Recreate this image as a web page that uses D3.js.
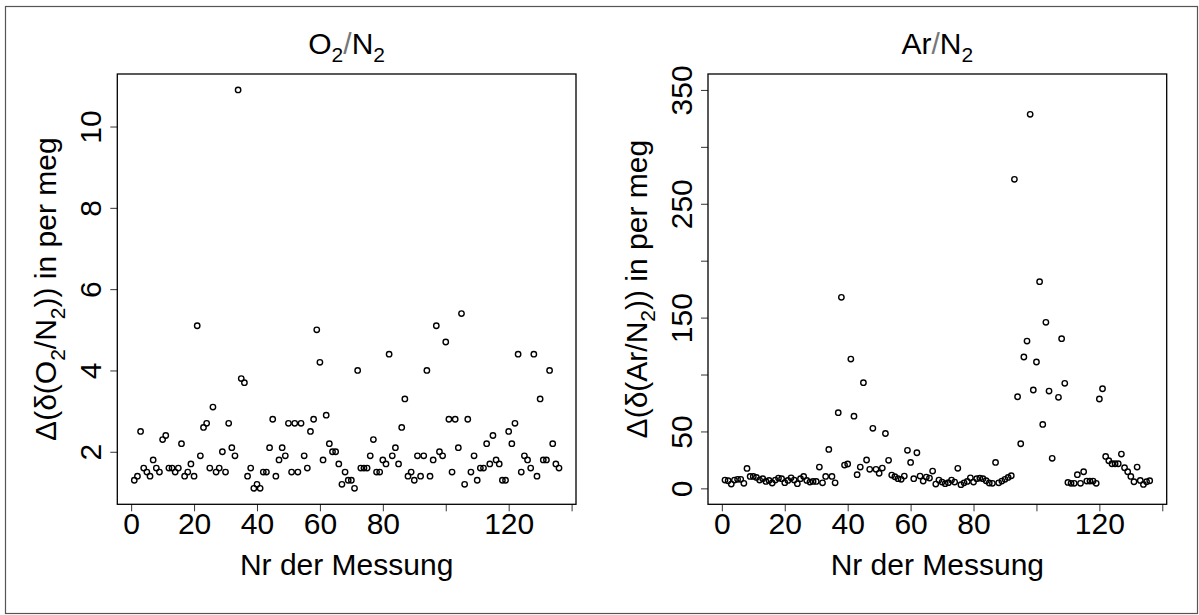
<!DOCTYPE html>
<html>
<head>
<meta charset="utf-8">
<script src="https://cdn.jsdelivr.net/npm/d3@7"></script>
<style>
    body { margin: 0; background: #fff; }
    text { font-family: "Liberation Sans", Arial, Helvetica, sans-serif; fill: #000; }
</style>
</head>
<body>
<div id="chart-area"></div>
<script>
/*
*    Two scatter panels: O2/N2 and Ar/N2 differences per measurement
*/

// Data
var nr = d3.range(1, 137);

var o2n2 = [1.3, 1.4, 2.5, 1.6, 1.5, 1.4, 1.8, 1.6, 1.5, 2.3,
    2.4, 1.6, 1.6, 1.5, 1.6, 2.2, 1.4, 1.5, 1.7, 1.4,
    5.1, 1.9, 2.6, 2.7, 1.6, 3.1, 1.5, 1.6, 2.0, 1.5,
    2.7, 2.1, 1.9, 10.9, 3.8, 3.7, 1.4, 1.6, 1.1, 1.2,
    1.1, 1.5, 1.5, 2.1, 2.8, 1.4, 1.8, 2.1, 1.9, 2.7,
    1.5, 2.7, 1.5, 2.7, 1.9, 1.6, 2.5, 2.8, 5.0, 4.2,
    1.8, 2.9, 2.2, 2.0, 2.0, 1.7, 1.2, 1.5, 1.3, 1.3,
    1.1, 4.0, 1.6, 1.6, 1.6, 1.9, 2.3, 1.5, 1.5, 1.8,
    1.7, 4.4, 1.9, 2.1, 1.7, 2.6, 3.3, 1.4, 1.5, 1.3,
    1.9, 1.4, 1.9, 4.0, 1.4, 1.8, 5.1, 2.0, 1.9, 4.7,
    2.8, 1.5, 2.8, 2.1, 5.4, 1.2, 2.8, 1.5, 1.9, 1.3,
    1.6, 1.6, 2.2, 1.7, 2.4, 1.8, 1.7, 1.3, 1.3, 2.5,
    2.2, 2.7, 4.4, 1.5, 1.9, 1.8, 1.6, 4.4, 1.4, 3.3,
    1.8, 1.8, 4.0, 2.2, 1.7, 1.6];

var arn2 = [7.3, 6.7, 3.8, 7.3, 7.9, 7.9, 4.4, 17.5, 10.5, 10.5,
    9.6, 7.3, 8.5, 6.1, 7.0, 4.7, 7.3, 9.0, 8.5, 5.0,
    7.0, 9.3, 7.3, 4.1, 8.5, 10.5, 7.0, 5.5, 6.1, 6.1,
    18.7, 4.9, 10.5, 34.2, 10.5, 4.9, 66.5, 167.8, 20.5, 21.4,
    113.6, 63.4, 12.0, 18.7, 92.8, 24.9, 16.7, 52.7, 16.7, 13.2,
    17.8, 48.2, 24.6, 11.7, 10.2, 8.5, 7.9, 10.8, 33.4, 22.8,
    8.5, 31.3, 10.8, 6.4, 9.9, 9.0, 15.2, 3.8, 7.3, 5.5,
    4.1, 5.0, 7.3, 5.5, 17.6, 3.2, 4.9, 6.1, 9.3, 5.5,
    8.5, 9.0, 8.5, 6.7, 4.7, 4.4, 22.8, 4.9, 6.4, 7.9,
    9.6, 11.1, 271.5, 80.5, 39.2, 115.4, 129.4, 328.6, 86.4, 111.0,
    181.6, 56.2, 145.9, 85.5, 26.4, null, 80.0, 131.5, 92.3, 5.2,
    4.4, 4.4, 12.0, 4.4, 14.6, 6.4, 6.4, 6.4, 4.4, 78.5,
    87.5, 28.1, 24.3, 21.6, 21.6, 21.6, 30.1, 18.1, 14.6, 10.5,
    5.8, 18.7, 7.0, 3.5, 5.8, 6.7];

// Ticks
var xTicks = [0, 20, 40, 60, 80, 100, 120, 140];
var xTickLabels = [0, 20, 40, 60, 80, 120];
var o2Ticks = [2, 4, 6, 8, 10];
var o2TickLabels = [2, 4, 6, 8, 10];
var arTicks = [0, 50, 100, 150, 200, 250, 300, 350];
var arTickLabels = [0, 50, 150, 250, 350];

var W = 1199, H = 615;
var fontSize = 30;

var svg = d3.select("#chart-area")
    .append("svg")
        .attr("width", W)
        .attr("height", H);

// outer frame
svg.append("rect")
    .attr("x", 5.5)
    .attr("y", 6.5)
    .attr("width", 1192)
    .attr("height", 607)
    .attr("fill", "none")
    .attr("stroke", "#555")
    .attr("stroke-width", 1.2);

// writes text made of parts, some of them subscripts
function richText(sel, parts) {
    var shift = fontSize * 0.28;
    var down = false;
    parts.forEach(function(p) {
        var ts = sel.append("tspan").text(p.t);
        if (p.sub) {
            ts.attr("font-size", fontSize * 0.7)
                .attr("dy", down ? 0 : shift);
            down = true;
        } else {
            if (down) ts.attr("dy", -shift);
            down = false;
            if (p.light) ts.style("fill", "#777");
        }
    });
}

function panel(opts) {
    var width = opts.right - opts.left,
        height = 504.3 - 74;

    var g = svg.append("g")
        .attr("transform", "translate(" + opts.left + ", 74)");

    // X Scale
    var x = d3.scaleLinear()
        .domain([1 - 0.04 * 135, 136 + 0.04 * 135])
        .range([0, width]);

    // Y Scale
    var y = d3.scaleLinear()
        .domain(opts.yDomain)
        .range([height, 0]);

    // X Axis
    var xAxisCall = d3.axisBottom(x)
        .tickValues(xTicks)
        .tickSize(7)
        .tickFormat(function(d) { return xTickLabels.indexOf(d) >= 0 ? d : ""; });
    var xAxisGroup = g.append("g")
        .attr("transform", "translate(0," + height + ")")
        .call(xAxisCall);
    xAxisGroup.select(".domain").remove();
    xAxisGroup.selectAll("line").attr("stroke", "#333");
    xAxisGroup.selectAll("text")
        .filter(function() { return this.textContent === ""; })
        .remove();
    xAxisGroup.selectAll("text")
        .attr("y", 30)
        .attr("dy", 0)
        .attr("font-size", fontSize)
        .attr("font-family", null);

    // Y Axis
    var yAxisCall = d3.axisLeft(y)
        .tickValues(opts.yTicks)
        .tickSize(7)
        .tickFormat(function(d) { return opts.yTickLabels.indexOf(d) >= 0 ? d : ""; });
    var yAxisGroup = g.append("g").call(yAxisCall);
    yAxisGroup.select(".domain").remove();
    yAxisGroup.selectAll("line").attr("stroke", "#333");
    yAxisGroup.selectAll("text")
        .filter(function() { return this.textContent === ""; })
        .remove();
    yAxisGroup.selectAll("text")
        .attr("x", 0)
        .attr("dy", 0)
        .attr("text-anchor", "middle")
        .attr("transform", "translate(-16,0) rotate(-90)")
        .attr("font-size", fontSize)
        .attr("font-family", null);

    // Box
    g.append("rect")
        .attr("width", width)
        .attr("height", height)
        .attr("fill", "none")
        .attr("stroke", "#000")
        .attr("stroke-width", 1.3);

    // Points
    var pts = nr.map(function(d, i) { return { nr: d, v: opts.values[i] }; })
        .filter(function(d) { return d.v !== null; });

    g.selectAll("circle")
        .data(pts)
        .enter()
        .append("circle")
            .attr("cx", function(d) { return x(d.nr); })
            .attr("cy", function(d) { return y(d.v); })
            .attr("r", 2.7)
            .attr("fill", "none")
            .attr("stroke", "#000")
            .attr("stroke-width", 1.4);

    // Title
    var title = g.append("text")
        .attr("x", width / 2)
        .attr("y", -20)
        .attr("font-size", fontSize)
        .attr("text-anchor", "middle");
    richText(title, opts.title);

    // X Label
    g.append("text")
        .attr("x", width / 2)
        .attr("y", height + 71)
        .attr("font-size", fontSize)
        .attr("text-anchor", "middle")
        .text("Nr der Messung");

    // Y Label
    var ylab = g.append("text")
        .attr("x", -height / 2)
        .attr("y", -61)
        .attr("font-size", fontSize)
        .attr("text-anchor", "middle")
        .attr("transform", "rotate(-90)");
    richText(ylab, opts.ylab);
}

panel({
    left: 117.3,
    right: 576,
    values: o2n2,
    yDomain: [0.708, 11.292],
    yTicks: o2Ticks,
    yTickLabels: o2TickLabels,
    title: [{ t: "O" }, { t: "2", sub: true }, { t: "/", light: true }, { t: "N" }, { t: "2", sub: true }],
    ylab: [{ t: "\u0394(\u03B4(O" }, { t: "2", sub: true }, { t: "/N" }, { t: "2", sub: true }, { t: ")) in per meg" }]
});

panel({
    left: 708,
    right: 1166.7,
    values: arn2,
    yDomain: [-14, 364],
    yTicks: arTicks,
    yTickLabels: arTickLabels,
    title: [{ t: "Ar" }, { t: "/", light: true }, { t: "N" }, { t: "2", sub: true }],
    ylab: [{ t: "\u0394(\u03B4(Ar/N" }, { t: "2", sub: true }, { t: ")) in per meg" }]
});
</script>
</body>
</html>
